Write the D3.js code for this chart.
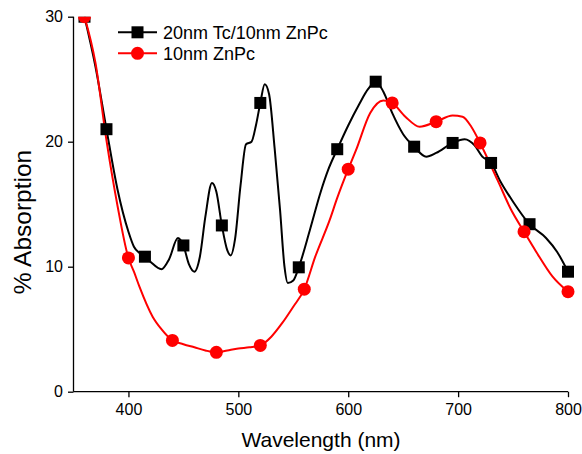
<!DOCTYPE html>
<html lang="en">
<head>
    <meta charset="UTF-8">
    <title>Absorption spectra</title>
    <script type="text/javascript" src="https://cdn.jsdelivr.net/npm/d3@7"></script>
    <style>
        body { margin: 0; background: #fff; }
        text { font-family: "Liberation Sans", Arial, sans-serif; fill: #000; }
    </style>
</head>
<body>
<script>
    // 20nm Tc/10nm ZnPc
    var blackWl = [360, 370, 380, 390, 400, 405, 410, 415, 420, 430, 437, 445, 450, 455, 460, 465, 470, 476,
        480, 485, 490, 493, 497, 502, 507, 512, 516, 520, 524, 528, 533, 538, 542, 545, 550, 555, 565, 575,
        582, 590, 600, 610, 618, 625, 632, 640, 650, 660, 671, 680, 695, 706, 715, 722, 730, 738, 750, 765,
        780, 790, 800];
    var blackVal = [30, 26.0, 21.0, 16.2, 12.8, 11.6, 11.1, 10.8, 10.4, 9.8, 10.6, 12.3, 11.7, 10.2, 9.6, 10.8,
        14.0, 16.7, 16.0, 13.3, 11.3, 10.9, 12.2, 16.5, 19.8, 20.0, 21.3, 23.1, 24.6, 23.8, 19.5, 14.5, 10.0,
        8.7, 8.9, 9.95, 12.9, 16.0, 17.8, 19.4, 21.3, 23.0, 24.2, 24.8, 24.0, 22.3, 20.6, 19.6, 18.8, 19.1,
        19.9, 20.2, 19.7, 18.8, 18.3, 16.9, 15.2, 13.4, 12.3, 11.2, 9.6];
    var blackMarks = [360, 380, 415, 450, 485, 520, 555, 590, 625, 660, 695, 730, 765, 800];

    // 10nm ZnPc
    var redWl = [360, 370, 380, 390, 400, 405, 410, 422, 430, 440, 450, 460, 470, 480, 490, 500, 510, 520,
        530, 540, 550, 560, 570, 583, 590, 600, 607, 620, 632, 640, 652, 665, 680, 695, 704, 712, 720, 736,
        748, 760, 771, 786, 800];
    var redVal = [30, 26.3, 20.1, 14.9, 10.7, 9.6, 8.4, 6.0, 5.0, 4.1, 3.8, 3.55, 3.3, 3.15, 3.3, 3.45, 3.55,
        3.7, 4.4, 5.5, 6.8, 8.2, 10.8, 13.7, 15.5, 17.8, 19.3, 22.3, 23.3, 23.1, 22.0, 21.2, 21.6, 22.1, 22.0,
        21.2, 19.9, 16.9, 14.6, 12.8, 11.2, 9.2, 8.0];
    var redMarks = [360, 400, 440, 480, 520, 560, 600, 640, 680, 720, 760, 800];

    var xMajor = [400, 500, 600, 700, 800];
    var xMinor = [350, 450, 550, 650, 750];
    var yMajor = [0, 10, 20, 30];
    var yMinor = [5, 15, 25];

    var w = 582, h = 454;
    var svg = d3.select("body").append("svg")
        .attr("width", w)
        .attr("height", h);

    var x = d3.scaleLinear().domain([350, 800]).range([73.5, 568]);
    var y = d3.scaleLinear().domain([0, 30]).range([391.7, 16.7]);

    svg.append("clipPath").attr("id", "plot")
        .append("rect")
        .attr("x", 74).attr("y", 16.7)
        .attr("width", 520).attr("height", 400);

    function pairs(wl, val) {
        return wl.map(function (d, i) { return [d, val[i]]; });
    }
    var black = pairs(blackWl, blackVal);
    var red = pairs(redWl, redVal);

    // axes
    var gx = svg.append("g").attr("transform", "translate(0," + y(0) + ")");
    gx.call(d3.axisBottom(x).tickValues(xMinor).tickSize(3).tickFormat(""));
    gx.call(d3.axisBottom(x).tickValues(xMajor).tickSize(5.5).tickPadding(6).tickFormat(d3.format("d")));
    var gy = svg.append("g").attr("transform", "translate(" + x(350) + ",0)");
    gy.call(d3.axisLeft(y).tickValues(yMinor).tickSize(3).tickFormat(""));
    gy.call(d3.axisLeft(y).tickValues(yMajor).tickSize(5.5).tickPadding(5).tickFormat(d3.format("d")));
    svg.selectAll(".domain").attr("stroke", "#000").attr("stroke-width", 1.3);
    svg.selectAll(".tick line").attr("stroke", "#000").attr("stroke-width", 1.3);
    svg.selectAll(".tick text").attr("font-size", "16px")
        .attr("font-family", "Liberation Sans, Arial, sans-serif").attr("fill", "#000");
    // drop the outer end ticks the axis generator adds
    gx.selectAll(".domain").attr("d", "M" + x(350) + ",0H" + x(800));
    gy.selectAll(".domain").attr("d", "M0," + y(0) + "V" + y(30));

    svg.append("text")
        .attr("x", 321).attr("y", 447)
        .attr("text-anchor", "middle")
        .attr("font-size", "21px")
        .text("Wavelength (nm)");
    svg.append("text")
        .attr("transform", "translate(31,222) rotate(-90)")
        .attr("text-anchor", "middle")
        .attr("font-size", "24.5px")
        .text("% Absorption");

    // curves
    var line = d3.line()
        .x(function (d) { return x(d[0]); })
        .y(function (d) { return y(d[1]); })
        .curve(d3.curveMonotoneX);
    var plot = svg.append("g").attr("clip-path", "url(#plot)");
    plot.append("path").datum(black)
        .attr("d", line).attr("fill", "none")
        .attr("stroke", "#000").attr("stroke-width", 2);
    plot.append("path").datum(red)
        .attr("d", line).attr("fill", "none")
        .attr("stroke", "#ff0000").attr("stroke-width", 2);

    plot.selectAll("rect.mk")
        .data(black.filter(function (d) { return blackMarks.indexOf(d[0]) >= 0; }))
        .enter().append("rect")
        .attr("class", "mk")
        .attr("x", function (d) { return x(d[0]) - 6; })
        .attr("y", function (d) { return y(d[1]) - 6; })
        .attr("width", 12).attr("height", 12)
        .attr("fill", "#000");
    plot.selectAll("circle.mk")
        .data(red.filter(function (d) { return redMarks.indexOf(d[0]) >= 0; }))
        .enter().append("circle")
        .attr("class", "mk")
        .attr("cx", function (d) { return x(d[0]); })
        .attr("cy", function (d) { return y(d[1]); })
        .attr("r", 6.5)
        .attr("fill", "#ff0000");

    // legend
    var legend = svg.append("g");
    var items = [
        { label: "20nm Tc/10nm ZnPc", color: "#000", shape: "square" },
        { label: "10nm ZnPc", color: "#ff0000", shape: "circle" }
    ];
    items.forEach(function (it, i) {
        var ly = 32.3 + i * 21;
        legend.append("line")
            .attr("x1", 118).attr("x2", 157)
            .attr("y1", ly).attr("y2", ly)
            .attr("stroke", it.color).attr("stroke-width", 2);
        if (it.shape === "square") {
            legend.append("rect")
                .attr("x", 131.5).attr("y", ly - 6)
                .attr("width", 12).attr("height", 12)
                .attr("fill", it.color);
        } else {
            legend.append("circle")
                .attr("cx", 137.5).attr("cy", ly)
                .attr("r", 6.5).attr("fill", it.color);
        }
        legend.append("text")
            .attr("x", 163).attr("y", ly + 6.3)
            .attr("font-size", "18px")
            .text(it.label);
    });
</script>
</body>
</html>
